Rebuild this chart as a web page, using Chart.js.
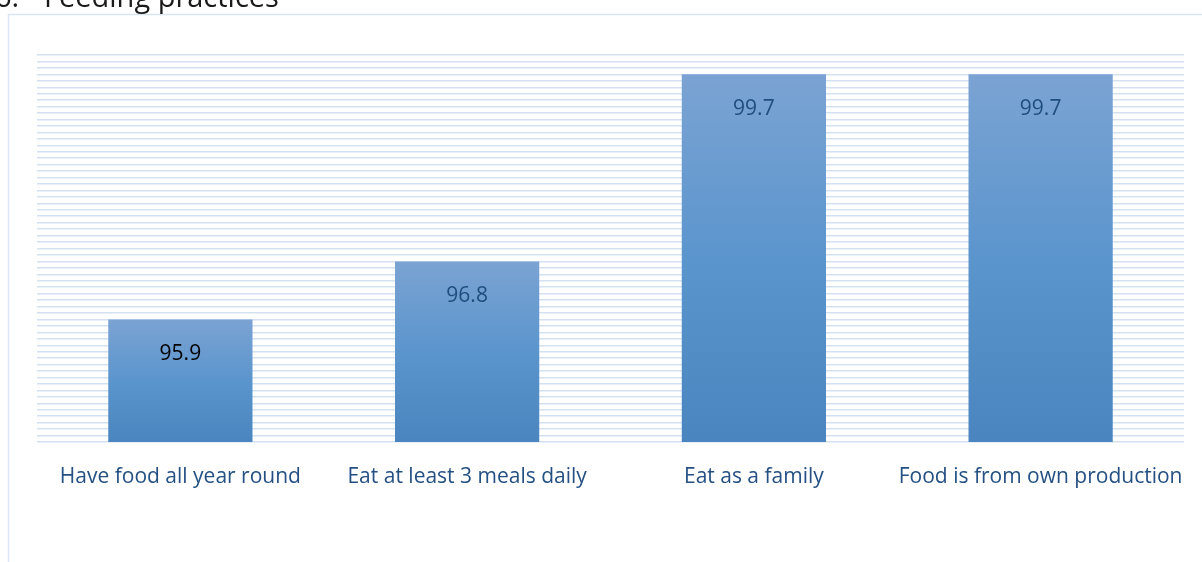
<!DOCTYPE html>
<html>
<head>
<meta charset="utf-8">
<title>Feeding practices</title>
<script src="https://cdn.jsdelivr.net/npm/chart.js@4"></script>
<style>
    html, body { margin: 0; padding: 0; background: #fff; }
    #wrap { width: 1202px; height: 562px; position: relative; }
</style>
</head>
<body>
<div id="wrap"><canvas id="feedingChart" width="1202" height="562"></canvas></div>
<script>
const categories = ['Have food all year round', 'Eat at least 3 meals daily', 'Eat as a family', 'Food is from own production'];
const percentages = [95.9, 96.8, 99.7, 99.7];
const labelColors = ['#000000', '#1f4e7d', '#1f4e7d', '#1f4e7d'];
const axisMin = 94;
const axisMax = 100;
const gridStep = 0.1;

const FONT = '"Open Sans", "Noto Sans", sans-serif';

// title text and the light frame around the plot
const framePlugin = {
    id: 'frame',
    beforeDraw(chart) {
        const c = chart.ctx;
        c.save();
        c.strokeStyle = '#dae5f2';
        c.lineWidth = 1.5;
        c.beginPath();
        c.moveTo(8.5, 562);
        c.lineTo(8.5, 14.5);
        c.lineTo(1202, 14.5);
        c.stroke();
        c.fillStyle = '#1a1a1a';
        c.font = '29px ' + FONT;
        c.textBaseline = 'alphabetic';
        c.fillText('6.', -5, 7);
        c.fillText('Feeding practices', 44, 7);
        c.restore();
    }
};

// value written inside the top of each bar
const valueLabels = {
    id: 'valueLabels',
    afterDatasetsDraw(chart) {
        const c = chart.ctx;
        const meta = chart.getDatasetMeta(0);
        c.save();
        c.font = '21px ' + FONT;
        c.textAlign = 'center';
        c.textBaseline = 'middle';
        meta.data.forEach((bar, i) => {
            c.fillStyle = labelColors[i];
            c.fillText(percentages[i].toFixed(1), bar.x, bar.y + 35);
        });
        c.restore();
    }
};

function barGradient(context) {
    const chart = context.chart;
    if (!chart.chartArea) return '#5a93cc';
    const yScale = chart.scales.y;
    const top = yScale.getPixelForValue(context.raw);
    const bottom = yScale.getPixelForValue(axisMin);
    const g = chart.ctx.createLinearGradient(0, top, 0, bottom);
    g.addColorStop(0, '#7ba3d3');
    g.addColorStop(0.5, '#5b95cd');
    g.addColorStop(1, '#4a85bf');
    return g;
}

new Chart(document.getElementById('feedingChart'), {
    type: 'bar',
    data: {
        labels: categories,
        datasets: [{
            data: percentages,
            backgroundColor: barGradient,
            borderWidth: 0,
            categoryPercentage: 1,
            barPercentage: 0.503
        }]
    },
    options: {
        responsive: false,
        animation: false,
        events: [],
        layout: { padding: { left: 37, right: 18, top: 55, bottom: 0 } },
        plugins: {
            legend: { display: false },
            tooltip: { enabled: false }
        },
        scales: {
            x: {
                grid: { display: false },
                border: { display: false },
                ticks: {
                    color: '#245083',
                    font: { family: FONT, size: 21 },
                    padding: 14,
                    maxRotation: 0
                },
                afterFit(scale) { scale.height = 120; }
            },
            y: {
                min: axisMin,
                max: axisMax,
                ticks: { display: false, stepSize: gridStep },
                grid: { color: '#d4e1f1', lineWidth: 1.5, drawTicks: false },
                border: { display: false },
                afterFit(scale) { scale.width = 0; }
            }
        }
    },
    plugins: [framePlugin, valueLabels]
});
</script>
</body>
</html>
